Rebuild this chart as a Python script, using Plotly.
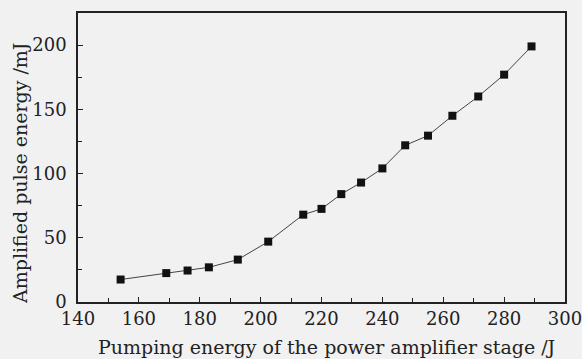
import plotly.graph_objects as go

pump_energy = [154, 169, 176, 183, 192.5, 202.5, 214, 220, 226.5, 233, 240, 247.5, 255, 263, 271.5, 280, 289]
pulse_energy = [17.5, 22.5, 24.5, 27, 33, 47, 68, 72.5, 84, 93, 104, 122, 129.5, 145, 160, 177, 199]

x_title = "Pumping energy of the power amplifier stage /J"
y_title = "Amplified pulse energy /mJ"

font_family = "DejaVu Serif"
bg = "#f1f1f1"
ink = "#222222"

fig = go.Figure()
fig.add_trace(go.Scatter(
    x=pump_energy, y=pulse_energy, mode="lines+markers",
    line=dict(color="#444444", width=1),
    marker=dict(symbol="square", size=8, color="#111111"),
    showlegend=False,
))

axis_common = dict(
    showline=True, linecolor=ink, linewidth=1.5, mirror=True,
    ticks="inside", ticklen=5, tickcolor=ink, tickwidth=1.2,
    showgrid=False, zeroline=False, ticklabeloverflow="allow", automargin=False,
    tickfont=dict(family=font_family, size=18, color=ink),
)

fig.update_xaxes(range=[140, 300], dtick=20, tick0=140,
                 minor=dict(dtick=10, ticks="inside", ticklen=4, tickcolor=ink),
                 **axis_common)
fig.update_yaxes(range=[0, 225], dtick=50, tick0=0,
                 minor=dict(dtick=25, ticks="inside", ticklen=4, tickcolor=ink),
                 ticklabelstandoff=6,
                 **axis_common)

fig.add_annotation(text=x_title, xref="paper", yref="paper", x=0.51, y=-0.156,
                   showarrow=False, yanchor="middle", xanchor="center",
                   font=dict(family=font_family, size=19, color=ink))
fig.add_annotation(text=y_title, xref="paper", yref="paper", x=-0.119, y=0.443,
                   textangle=-90, showarrow=False, xanchor="center", yanchor="middle",
                   font=dict(family=font_family, size=19, color=ink))

fig.update_layout(
    width=582, height=359,
    margin=dict(l=78, r=17, t=13, b=57, autoexpand=False),
    paper_bgcolor=bg, plot_bgcolor=bg,
)

fig.write_html(
    "out.html",
    config={"displayModeBar": False},
    post_script="document.documentElement.style.overflow='hidden';"
                "document.body.style.margin='0';document.body.style.overflow='hidden';"
                "document.body.style.background='#f1f1f1';",
)
